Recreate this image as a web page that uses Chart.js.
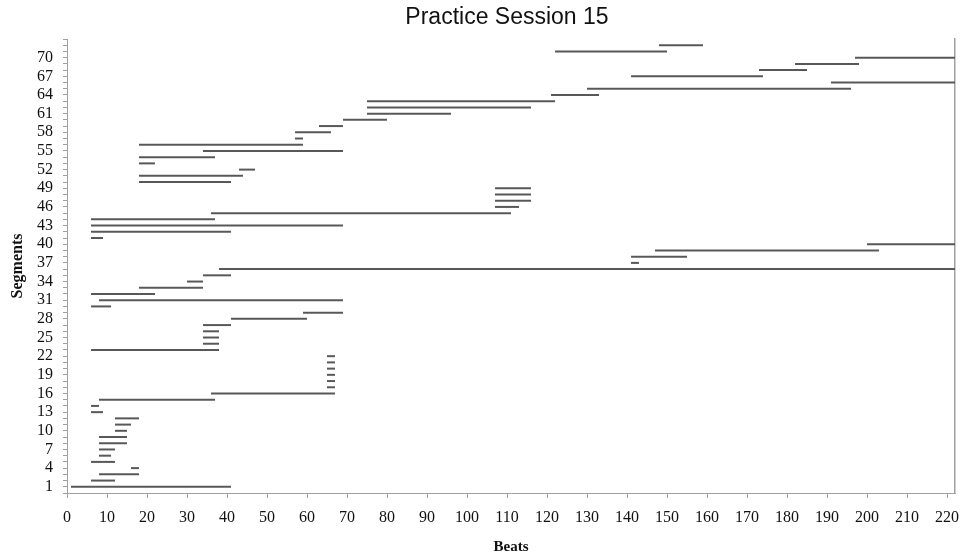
<!DOCTYPE html>
<html>
<head>
<meta charset="utf-8">
<script src="https://cdn.jsdelivr.net/npm/chart.js@4"></script>
<style>
html,body{margin:0;padding:0;background:#fff;}
#wrap{width:960px;height:556px;}
</style>
</head>
<body>
<div id="wrap"><canvas id="c" width="960" height="556"></canvas></div>
<script>
// Segment n (1-based) spans [segStart[n-1], segEnd[n-1]] beats
const segStart = [1,6,8,16,6,8,8,8,8,12,12,12,6,6,8,36,65,65,65,65,65,65,6,34,34,34,34,41,59,6,8,6,18,30,34,38,141,141,147,200,6,6,6,6,36,107,107,107,107,18,18,43,18,18,34,18,57,57,63,69,75,75,75,121,130,191,141,173,182,197,122,148];
const segEnd   = [41,12,18,18,12,11,12,15,15,15,16,18,9,8,37,67,67,67,67,67,67,67,38,38,38,38,41,60,69,11,69,22,34,34,41,222,143,155,203,222,9,41,69,37,111,113,116,116,116,41,44,47,22,37,69,59,59,66,69,80,96,116,122,133,196,222,174,185,198,222,150,159];
const xTickLabels = [0,10,20,30,40,50,60,70,80,90,100,110,120,130,140,150,160,170,180,190,200,210,220];
const yTickLabels = [1,4,7,10,13,16,19,22,25,28,31,34,37,40,43,46,49,52,55,58,61,64,67,70];
const titleText = 'Practice Session 15';
const xTitle = 'Beats';
const yTitle = 'Segments';

const datasets = segStart.map((s, i) => ({
  data: [{x: s, y: i + 1}, {x: segEnd[i], y: i + 1}],
  borderColor: '#585858',
  borderWidth: 2,
  pointRadius: 0,
  pointHoverRadius: 0,
  showLine: true,
  fill: false
}));

const titlePlugin = {
  id: 'centerTitle',
  afterDraw(chart) {
    const ctx = chart.ctx, a = chart.chartArea;
    ctx.save();
    ctx.font = '23px "Liberation Sans", Arial, sans-serif';
    ctx.fillStyle = '#111';
    ctx.textAlign = 'center';
    ctx.textBaseline = 'middle';
    ctx.fillText(titleText, (a.left + a.right) / 2 - 4, 18);
    ctx.restore();
  }
};

const tickFont = {family: '"Liberation Serif", "Times New Roman", serif', size: 16};
const axisColor = '#a0a0a0';

new Chart(document.getElementById('c'), {
  type: 'scatter',
  data: {datasets},
  plugins: [titlePlugin],
  options: {
    responsive: false,
    animation: false,
    events: [],
    layout: {padding: {top: 39, right: 5, left: 0, bottom: 0}},
    plugins: {legend: {display: false}, tooltip: {enabled: false}, title: {display: false}},
    scales: {
      x: {
        type: 'linear', min: 0, max: 222,
        afterBuildTicks(s) { s.ticks = xTickLabels.map(v => ({value: v})); },
        afterFit(s) { s.height = 63; s.paddingRight = 0; s.paddingLeft = 0; },
        ticks: {font: tickFont, color: '#111', padding: 10, maxRotation: 0, autoSkip: false},
        grid: {display: true, drawOnChartArea: false, drawTicks: true, tickLength: 5, color: axisColor},
        border: {display: true, color: axisColor, width: 1},
        title: {display: true, text: xTitle, color: '#111',
          font: {family: '"Liberation Serif", "Times New Roman", serif', size: 15, weight: 'bold'},
          padding: {top: 0, bottom: 0}}
      },
      y: {
        type: 'linear', min: 0, max: 73, position: 'left',
        afterBuildTicks(s) { const t = []; for (let v = 0; v <= 73; v++) t.push({value: v}); s.ticks = t; },
        afterFit(s) { s.width = 67; s.paddingTop = 0; s.paddingBottom = 0; },
        ticks: {font: tickFont, color: '#111', padding: 10, autoSkip: false,
          callback: v => yTickLabels.includes(v) ? String(v) : ''},
        grid: {display: true, drawOnChartArea: false, drawTicks: true, tickLength: 4, color: axisColor},
        border: {display: true, color: axisColor, width: 1},
        title: {display: true, text: yTitle, color: '#111',
          font: {family: '"Liberation Serif", "Times New Roman", serif', size: 16, weight: 'bold'},
          padding: {top: 8, bottom: 0}}
      },
      y2: {
        type: 'linear', min: 0, max: 73, position: 'right',
        afterFit(s) { s.width = 0; s.paddingTop = 0; s.paddingBottom = 0; },
        ticks: {display: false},
        grid: {display: false, drawTicks: false},
        border: {display: true, color: axisColor, width: 1.5}
      }
    }
  }
});
</script>
</body>
</html>
